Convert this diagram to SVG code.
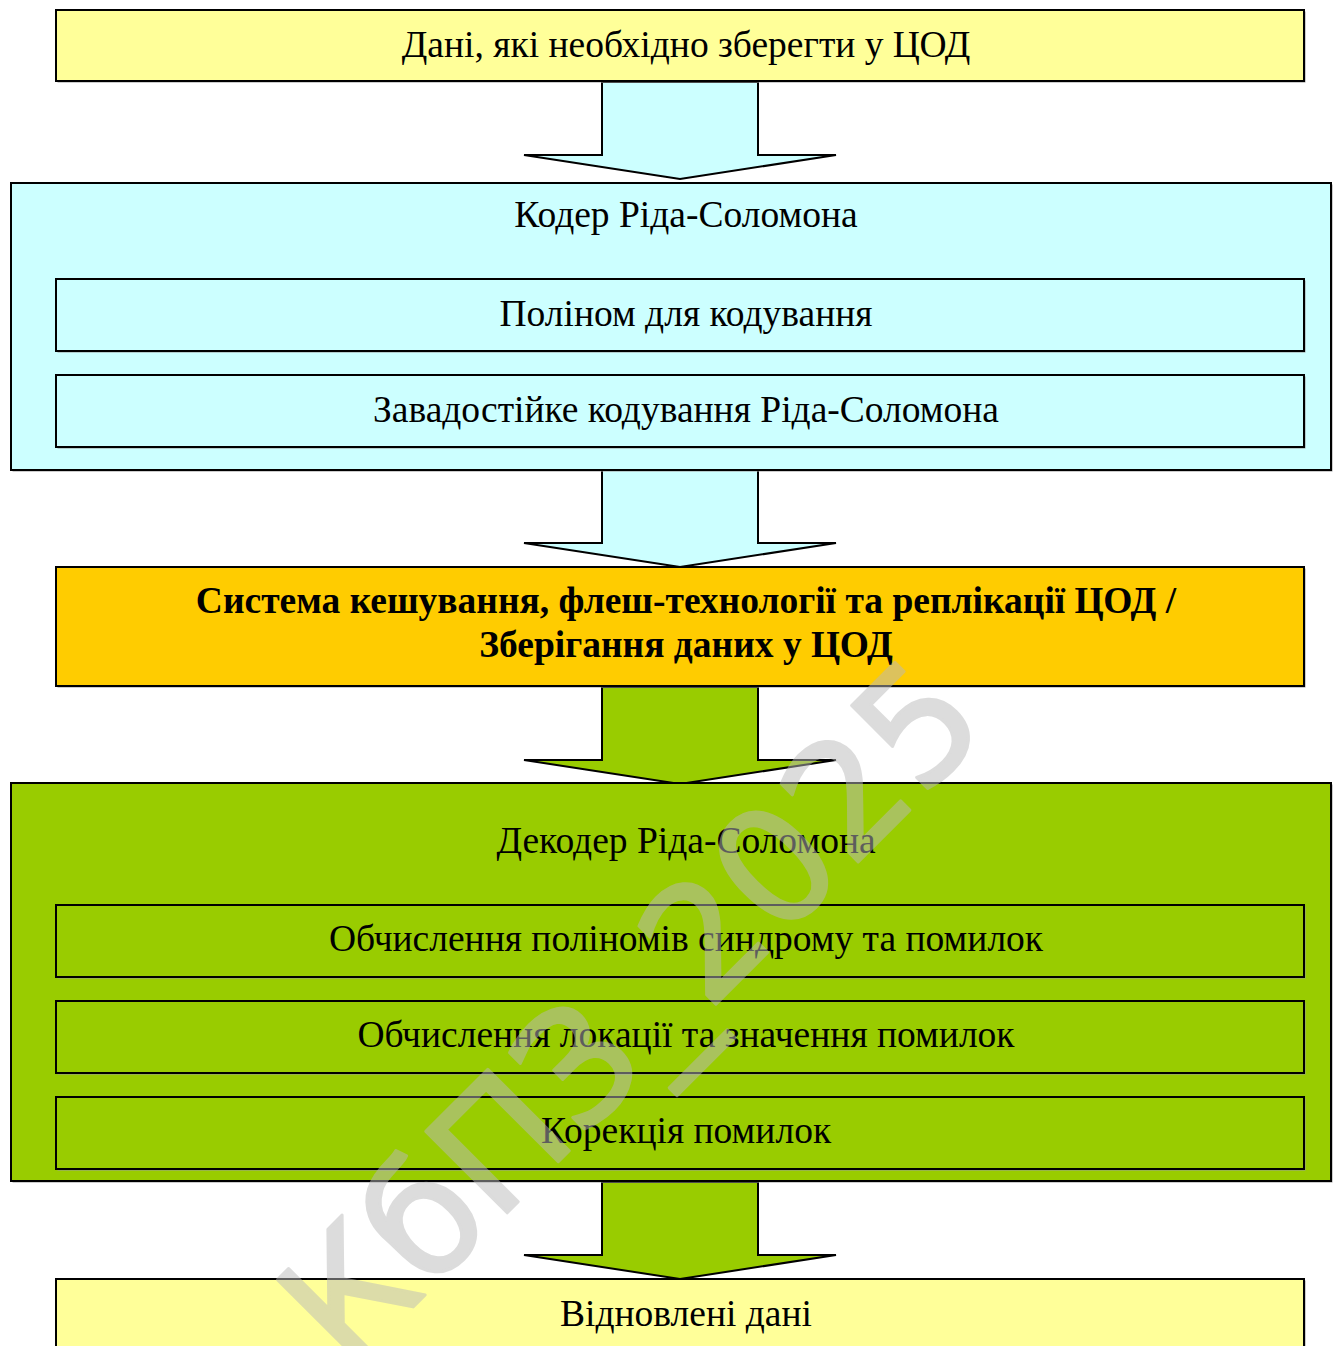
<svg xmlns="http://www.w3.org/2000/svg" width="1338" height="1346" viewBox="0 0 1338 1346">
  <style>
    .box { stroke: #000; stroke-width: 2; }
    .shadow { fill: #9a9a9a; }
    .yellow { fill: #ffff99; }
    .cyan { fill: #ccffff; }
    .orange { fill: #ffcc00; }
    .green { fill: #99cc00; }
    .arrow { stroke: #000; stroke-width: 2; stroke-linejoin: miter; }
    .lbl { font-family: "Liberation Serif", "Times New Roman", serif; font-size: 37.5px; fill: #000; text-anchor: middle; }
    .bold { font-weight: bold; }
    .wm { font-family: "DejaVu Sans", "Liberation Sans", sans-serif; font-size: 158px; fill: #bababa; stroke: #bababa; stroke-width: 3; stroke-linejoin: round; stroke-linecap: round; opacity: 0.5; }
  </style>
  <defs>
    <!-- block arrow pointing down, drawn at origin; shaft 156 wide, head 312 wide -->
    <path id="downArrow" d="M-78,0 H78 V73 H156 L0,97 L-156,73 H-78 Z"/>
  </defs>

  <rect width="1338" height="1346" fill="#fff"/>

  <!-- connectors: block arrows between stages -->
  <g id="connectors">
    <use href="#downArrow" x="680" y="82" class="arrow cyan"/>
    <use href="#downArrow" x="680" y="470" class="arrow cyan"/>
    <use href="#downArrow" x="680" y="687" class="arrow green"/>
    <use href="#downArrow" x="680" y="1182" class="arrow green"/>
  </g>

  <!-- input data -->
  <g id="input-data">
    <rect x="57.5" y="11.5" width="1248" height="71" class="shadow"/>
    <rect x="56" y="10" width="1248" height="71" class="box yellow"/>
    <text x="686" y="57" class="lbl">Дані, які необхідно зберегти у ЦОД</text>
  </g>

  <!-- Reed-Solomon encoder -->
  <g id="encoder">
    <rect x="12.5" y="184.5" width="1320" height="287" class="shadow"/>
    <rect x="11" y="183" width="1320" height="287" class="box cyan"/>
    <text x="686" y="227" class="lbl">Кодер Ріда-Соломона</text>
  </g>
  <g id="encoder-polynomial">
    <rect x="57.5" y="280.5" width="1248" height="72" class="shadow"/>
    <rect x="56" y="279" width="1248" height="72" class="box cyan"/>
    <text x="686" y="326" class="lbl">Поліном для кодування</text>
  </g>
  <g id="encoder-coding">
    <rect x="57.5" y="376.5" width="1248" height="72" class="shadow"/>
    <rect x="56" y="375" width="1248" height="72" class="box cyan"/>
    <text x="686" y="422" class="lbl">Завадостійке кодування Ріда-Соломона</text>
  </g>

  <!-- storage system -->
  <g id="storage">
    <rect x="57.5" y="568.5" width="1248" height="119" class="shadow"/>
    <rect x="56" y="567" width="1248" height="119" class="box orange"/>
    <text x="686" y="613" class="lbl bold">Система кешування, флеш-технології та реплікації ЦОД /</text>
    <text x="686" y="657" class="lbl bold">Зберігання даних у ЦОД</text>
  </g>

  <!-- Reed-Solomon decoder -->
  <g id="decoder">
    <rect x="12.5" y="784.5" width="1320" height="398" class="shadow"/>
    <rect x="11" y="783" width="1320" height="398" class="box green"/>
    <text x="686" y="853" class="lbl">Декодер Ріда-Соломона</text>
  </g>
  <g id="decoder-syndrome">
    <rect x="57.5" y="906.5" width="1248" height="72" class="shadow"/>
    <rect x="56" y="905" width="1248" height="72" class="box green"/>
    <text x="686" y="951" class="lbl">Обчислення поліномів синдрому та помилок</text>
  </g>
  <g id="decoder-location">
    <rect x="57.5" y="1002.5" width="1248" height="72" class="shadow"/>
    <rect x="56" y="1001" width="1248" height="72" class="box green"/>
    <text x="686" y="1047" class="lbl">Обчислення локації та значення помилок</text>
  </g>
  <g id="decoder-correction">
    <rect x="57.5" y="1098.5" width="1248" height="72" class="shadow"/>
    <rect x="56" y="1097" width="1248" height="72" class="box green"/>
    <text x="686" y="1143" class="lbl">Корекція помилок</text>
  </g>

  <!-- recovered data -->
  <g id="output-data">
    <rect x="57.5" y="1280.5" width="1248" height="80" class="shadow"/>
    <rect x="56" y="1279" width="1248" height="80" class="box yellow"/>
    <text x="686" y="1326" class="lbl">Відновлені дані</text>
  </g>

  <!-- watermark -->
  <text class="wm" transform="translate(348,1372) rotate(-45)">КбПЗ_2025</text>
</svg>
